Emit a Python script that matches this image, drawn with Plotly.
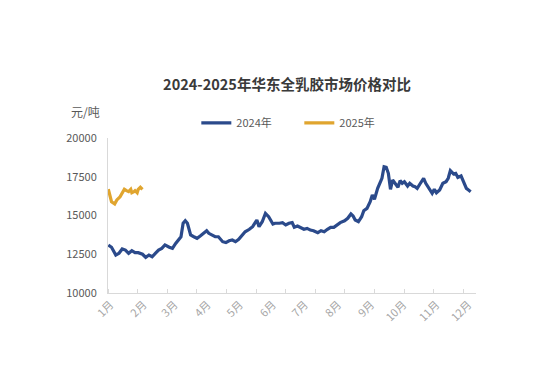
import pandas as pd
import plotly.graph_objects as go

# ---- data ----
days_2024 = [1, 4, 8, 11, 14, 17, 20, 23, 26, 29, 33, 36, 39, 42, 45, 48, 51, 54, 58, 61,
             64, 67, 69, 71, 73, 75, 78, 81, 84, 87, 90, 93, 95, 98, 101, 104, 108, 111, 114, 117,
             120, 123, 126, 129, 133, 136, 139, 140, 142, 145, 148, 151, 155, 157, 161, 164, 167, 170, 173, 175,
             178, 181, 184, 187, 190, 193, 197, 200, 203, 206, 209, 212, 215, 218, 222, 225, 228, 230, 232, 235,
             238, 240, 243, 246, 248, 250, 253, 255, 257, 259, 261, 263, 265, 267, 269, 272, 274, 276, 278, 281,
             283, 286, 288, 290, 293, 296, 298, 301, 304, 306, 308, 311, 314, 317, 319, 321, 324, 326, 328, 331,
             333, 336, 338, 340]
price_2024 = [13100, 12950, 12450, 12560, 12840, 12770, 12560, 12730, 12600, 12600, 12500, 12300, 12450, 12340, 12560, 12770, 12880, 13100, 12950, 12880,
              13200, 13420, 13630, 14500, 14660, 14500, 13740, 13630, 13530, 13680, 13850, 14020, 13850, 13740, 13630, 13630, 13310, 13250, 13370, 13420,
              13310, 13460, 13740, 13950, 14110, 14280, 14600, 14710, 14280, 14600, 15140, 14920, 14450, 14500, 14500, 14540, 14390, 14500, 14540, 14240,
              14320, 14240, 14110, 14170, 14060, 14020, 13890, 14020, 13950, 14110, 14240, 14240, 14390, 14540, 14660, 14820, 15100, 14970, 14710, 14600,
              14920, 15310, 15460, 15890, 16320, 16050, 16750, 17080, 17400, 18150, 18110, 17720, 16690, 17290, 17080, 16820, 17250, 17080, 17180, 16900,
              17080, 16900, 16860, 16750, 17080, 17400, 17080, 16750, 16430, 16690, 16470, 16650, 17080, 17180, 17400, 17890, 17680, 17720, 17460, 17550,
              17180, 16750, 16650, 16540]

days_2025 = [1, 3, 4, 7, 9, 12, 14, 16, 18, 20, 22, 23, 25, 26, 28, 29, 31, 33]
price_2025 = [16700, 16250, 15890, 15750, 16000, 16210, 16470, 16690, 16600, 16540, 16690, 16470, 16540, 16600, 16470, 16690, 16820, 16690]

month_labels = ["1月", "2月", "3月", "4月", "5月", "6月", "7月", "8月", "9月", "10月", "11月", "12月"]
y_ticks = [10000, 12500, 15000, 17500, 20000]
series_names = ["2024年", "2025年"]

# both years drawn on one shared Jan-Dec axis
base = pd.Timestamp("2024-01-01")
x_2024 = [base + pd.Timedelta(days=d) for d in days_2024]
x_2025 = [base + pd.Timedelta(days=d) for d in days_2025]
month_ticks = [pd.Timestamp(2024, m, 1) + pd.Timedelta(days=3) for m in range(1, 13)]

BLUE = "#2B4A8B"
GOLD = "#E0A52F"
FONT = "Noto Sans CJK SC, Liberation Sans, Arial, sans-serif"

# page body has an 8px margin, so the figure is 8px smaller than the window
W, H = 532, 374

fig = go.Figure()
fig.add_trace(go.Scatter(x=x_2024, y=price_2024, mode="lines", name=series_names[0],
                         line=dict(color=BLUE, width=3.2)))
fig.add_trace(go.Scatter(x=x_2025, y=price_2025, mode="lines", name=series_names[1],
                         line=dict(color=GOLD, width=3.2)))

fig.update_layout(
    width=W, height=H,
    margin=dict(l=100, r=64, t=130, b=89),
    paper_bgcolor="white", plot_bgcolor="white",
    font=dict(family=FONT, size=11, color="#595959"),
    title=dict(text="<b>2024-2025年华东全乳胶市场价格对比</b>", x=279 / W, xanchor="center",
               y=1 - 77 / H, yanchor="middle", yref="container",
               font=dict(size=14.5, color="#3A3A3A", family=FONT)),
    legend=dict(orientation="h", x=0.24, xanchor="left", y=1.097, yanchor="middle",
                font=dict(size=11, color="#595959"), entrywidth=58, itemwidth=30,
                bgcolor="rgba(0,0,0,0)"),
    showlegend=True,
    xaxis=dict(type="date", range=["2024-01-01 17:00", "2024-12-11"],
               tickvals=month_ticks, ticktext=month_labels, tickangle=-45,
               ticks="", showgrid=False, zeroline=False,
               showline=True, linecolor="#D9D9D9", linewidth=1,
               tickfont=dict(size=11, color="#A6A6A6"),
               minor=dict(ticks="inside", ticklen=4, tickcolor="#D9D9D9",
                          tick0="2024-01-29 12:00", dtick=27.7 * 86400000, showgrid=False)),
    yaxis=dict(range=[10000, 20000], tickvals=y_ticks, ticktext=[str(v) for v in y_ticks],
               ticks="", showgrid=False, zeroline=False,
               showline=True, linecolor="#D9D9D9", linewidth=1,
               tickfont=dict(size=11, color="#595959"), ticklabelstandoff=8),
    annotations=[dict(text="元/吨", x=-0.0625, y=1.168, xref="paper", yref="paper",
                      xanchor="center", yanchor="middle", showarrow=False,
                      font=dict(size=12, color="#595959"))],
)

fig.write_html("out.html")
